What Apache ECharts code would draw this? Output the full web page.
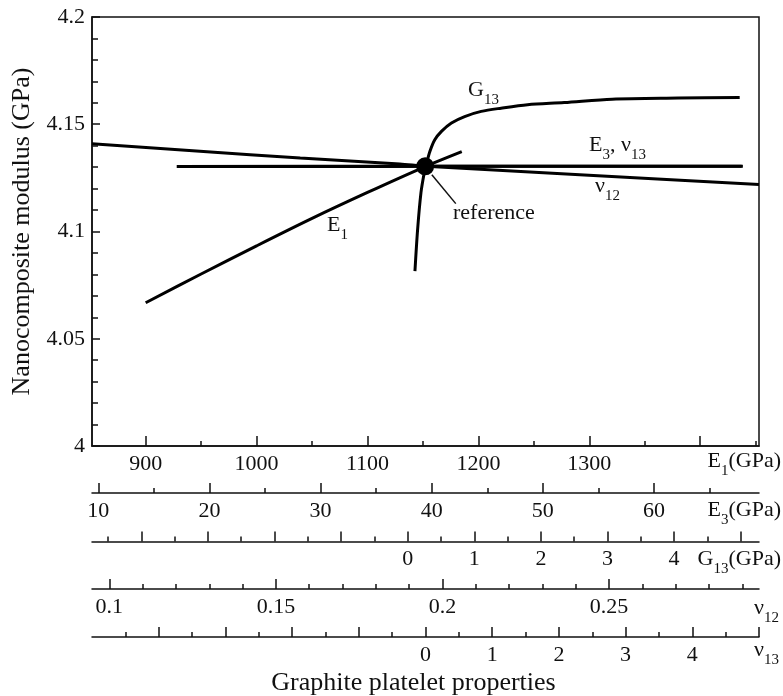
<!DOCTYPE html>
<html>
<head>
<meta charset="utf-8">
<script src="https://cdn.jsdelivr.net/npm/echarts@6/dist/echarts.min.js"></script>
<style>
  html, body { margin: 0; padding: 0; background: #fff; }
  #chart { width: 783px; height: 696px; }
</style>
</head>
<body>
<div id="chart"></div>
<script>
// curves: [property value on its own axis, nanocomposite modulus (GPa)]
const e1Curve = [[900, 4.0668], [950, 4.0802], [1000, 4.0933], [1050, 4.1061], [1100, 4.1182], [1150, 4.1298], [1185, 4.1372]]
const e3Curve = [[17.1, 4.1303], [30, 4.1303], [39.5, 4.1304], [50, 4.1304], [68, 4.1304]]
const g13Curve = [[0.109, 4.0815], [0.149, 4.1009], [0.199, 4.118], [0.248, 4.1273], [0.273, 4.1305], [0.333, 4.1373],
  [0.407, 4.1428], [0.507, 4.1467], [0.657, 4.1506], [0.855, 4.1536], [1.104, 4.156], [1.403, 4.1575],
  [1.8, 4.1591], [2.35, 4.1601], [3.07, 4.1617], [4.06, 4.1622], [4.985, 4.1625]]
const nu12Curve = [[0.0948, 4.1409], [0.1272, 4.1374], [0.1573, 4.1343], [0.1872, 4.1315], [0.195, 4.1304], [0.2412, 4.1265], [0.295, 4.1219]]
const nu13Curve = [[-3.73, 4.1303], [0, 4.1304], [4.74, 4.1304]]
const refPoint = [[1152, 4.1304]]
const refLeader = [[1158, 4.1265], [1179.6, 4.113]]

// axes: range, major ticks, labelled ticks, minor ticks
const e1Range = [851.6, 1453]
const e1Major = [900, 1000, 1100, 1200, 1300, 1400]
const e1Labels = [900, 1000, 1100, 1200, 1300]
const e1Minor = [950, 1050, 1150, 1250, 1350, 1450]

const e3Range = [9.43, 69.45]
const e3Major = [10, 20, 30, 40, 50, 60]
const e3Labels = [10, 20, 30, 40, 50, 60]
const e3Minor = [15, 25, 35, 45, 55, 65]

const g13Range = [-4.74, 5.275]
const g13Major = [-4, -3, -2, -1, 0, 1, 2, 3, 4, 5]
const g13Labels = [0, 1, 2, 3, 4]
const g13Minor = [-4.5, -3.5, -2.5, -1.5, -0.5, 0.5, 1.5, 2.5, 3.5, 4.5]

const nu12Range = [0.0948, 0.295]
const nu12Major = [0.1, 0.15, 0.2, 0.25]
const nu12Labels = [0.1, 0.15, 0.2, 0.25]
const nu12Minor = [0.11, 0.12, 0.13, 0.14, 0.16, 0.17, 0.18, 0.19, 0.21, 0.22, 0.23, 0.24, 0.26, 0.27, 0.28, 0.29]

const nu13Range = [-5, 5]
const nu13Major = [-4, -3, -2, -1, 0, 1, 2, 3, 4, 5]
const nu13Labels = [0, 1, 2, 3, 4]
const nu13Minor = [-4.5, -3.5, -2.5, -1.5, -0.5, 0.5, 1.5, 2.5, 3.5, 4.5]

const font = "'Liberation Serif', 'Times New Roman', serif"
const ink = '#111'

// one visible axis (major ticks + labels) and one overlay for the short ticks
function axisPair(range, major, labels, minor, offset) {
  const base = {
    type: 'value', gridIndex: 0, position: 'bottom', offset: offset,
    min: range[0], max: range[1], splitLine: { show: false }
  }
  return [
    Object.assign({}, base, {
      axisLine: { show: true, onZero: false, lineStyle: { color: ink, width: 1.5 } },
      axisTick: { show: true, inside: true, length: 10, customValues: major, lineStyle: { color: ink, width: 1.5 } },
      axisLabel: {
        show: true, customValues: labels, margin: 7, fontSize: 22, fontFamily: font, color: ink,
        formatter: function (v) { return String(v) }
      }
    }),
    Object.assign({}, base, {
      axisLine: { show: false, onZero: false },
      axisTick: { show: true, inside: true, length: 5, customValues: minor, lineStyle: { color: ink, width: 1.5 } },
      axisLabel: { show: false }
    })
  ]
}

const xAxes = [].concat(
  axisPair(e1Range, e1Major, e1Labels, e1Minor, 0),
  axisPair(e3Range, e3Major, e3Labels, e3Minor, 47),
  axisPair(g13Range, g13Major, g13Labels, g13Minor, 95.5),
  axisPair(nu12Range, nu12Major, nu12Labels, nu12Minor, 143),
  axisPair(nu13Range, nu13Major, nu13Labels, nu13Minor, 191)
)

const rich = {
  n: { fontSize: 22, fontFamily: font, lineHeight: 24, verticalAlign: 'middle' },
  s: { fontSize: 15, fontFamily: font, lineHeight: 24, verticalAlign: 'middle', padding: [20, 0, 0, 0] }
}

function label(text, x, y, align) {
  return {
    type: 'text', x: x, y: y, silent: true,
    style: { text: text, rich: rich, fill: ink, align: align || 'left', verticalAlign: 'middle', font: '22px ' + font }
  }
}

function curve(name, data, xIndex) {
  return {
    name: name, type: 'line', xAxisIndex: xIndex, yAxisIndex: 0, data: data,
    showSymbol: false, smooth: 0.3,
    lineStyle: { color: '#000', width: 3 }
  }
}

const chart = echarts.init(document.getElementById('chart'))
chart.setOption({
  animation: false,
  backgroundColor: '#fff',
  grid: { left: 92, top: 17, width: 667, height: 429, show: true, borderColor: ink, borderWidth: 1.5 },
  xAxis: xAxes,
  yAxis: {
    type: 'value', min: 4, max: 4.2, interval: 0.05, position: 'left',
    name: 'Nanocomposite modulus (GPa)', nameLocation: 'middle', nameGap: 54, nameRotate: 90,
    nameTextStyle: { fontSize: 26, fontFamily: font, color: ink },
    axisLine: { show: true, onZero: false, lineStyle: { color: ink, width: 1.5 } },
    axisTick: { inside: true, length: 8, lineStyle: { color: ink, width: 1.5 } },
    minorTick: { show: true, splitNumber: 5, length: 6, lineStyle: { color: ink, width: 1.5 } },
    axisLabel: { margin: 7, fontSize: 22, fontFamily: font, color: ink },
    splitLine: { show: false }
  },
  series: [
    Object.assign(curve('E1', e1Curve, 0), {
      markLine: {
        silent: true, symbol: 'none', label: { show: false },
        lineStyle: { color: ink, width: 1.5, type: 'solid' },
        data: [[{ coord: refLeader[0] }, { coord: refLeader[1] }]]
      }
    }),
    curve('E3', e3Curve, 2),
    curve('G13', g13Curve, 4),
    curve('nu12', nu12Curve, 6),
    curve('nu13', nu13Curve, 8),
    {
      name: 'reference', type: 'scatter', xAxisIndex: 0, yAxisIndex: 0, data: refPoint,
      symbol: 'circle', symbolSize: 18, itemStyle: { color: '#000', opacity: 1 }, z: 5
    }
  ],
  graphic: [
    label('{n|E}{s|1}{n|(GPa)}', 781, 461, 'right'),
    label('{n|E}{s|3}{n|(GPa)}', 781, 510, 'right'),
    label('{n|G}{s|13}{n|(GPa)}', 781, 559, 'right'),
    label('{n|ν}{s|12}', 779, 608, 'right'),
    label('{n|ν}{s|13}', 779, 650, 'right'),
    label('{n|G}{s|13}', 468, 90),
    label('{n|E}{s|3}{n|, ν}{s|13}', 589, 145),
    label('{n|ν}{s|12}', 595, 186),
    label('{n|E}{s|1}', 327, 225),
    label('{n|reference}', 453, 213),
    {
      type: 'text', x: 413.5, y: 683, silent: true,
      style: { text: 'Graphite platelet properties', fill: ink, align: 'center', verticalAlign: 'middle', font: '26px ' + font }
    }
  ]
})
</script>
</body>
</html>
